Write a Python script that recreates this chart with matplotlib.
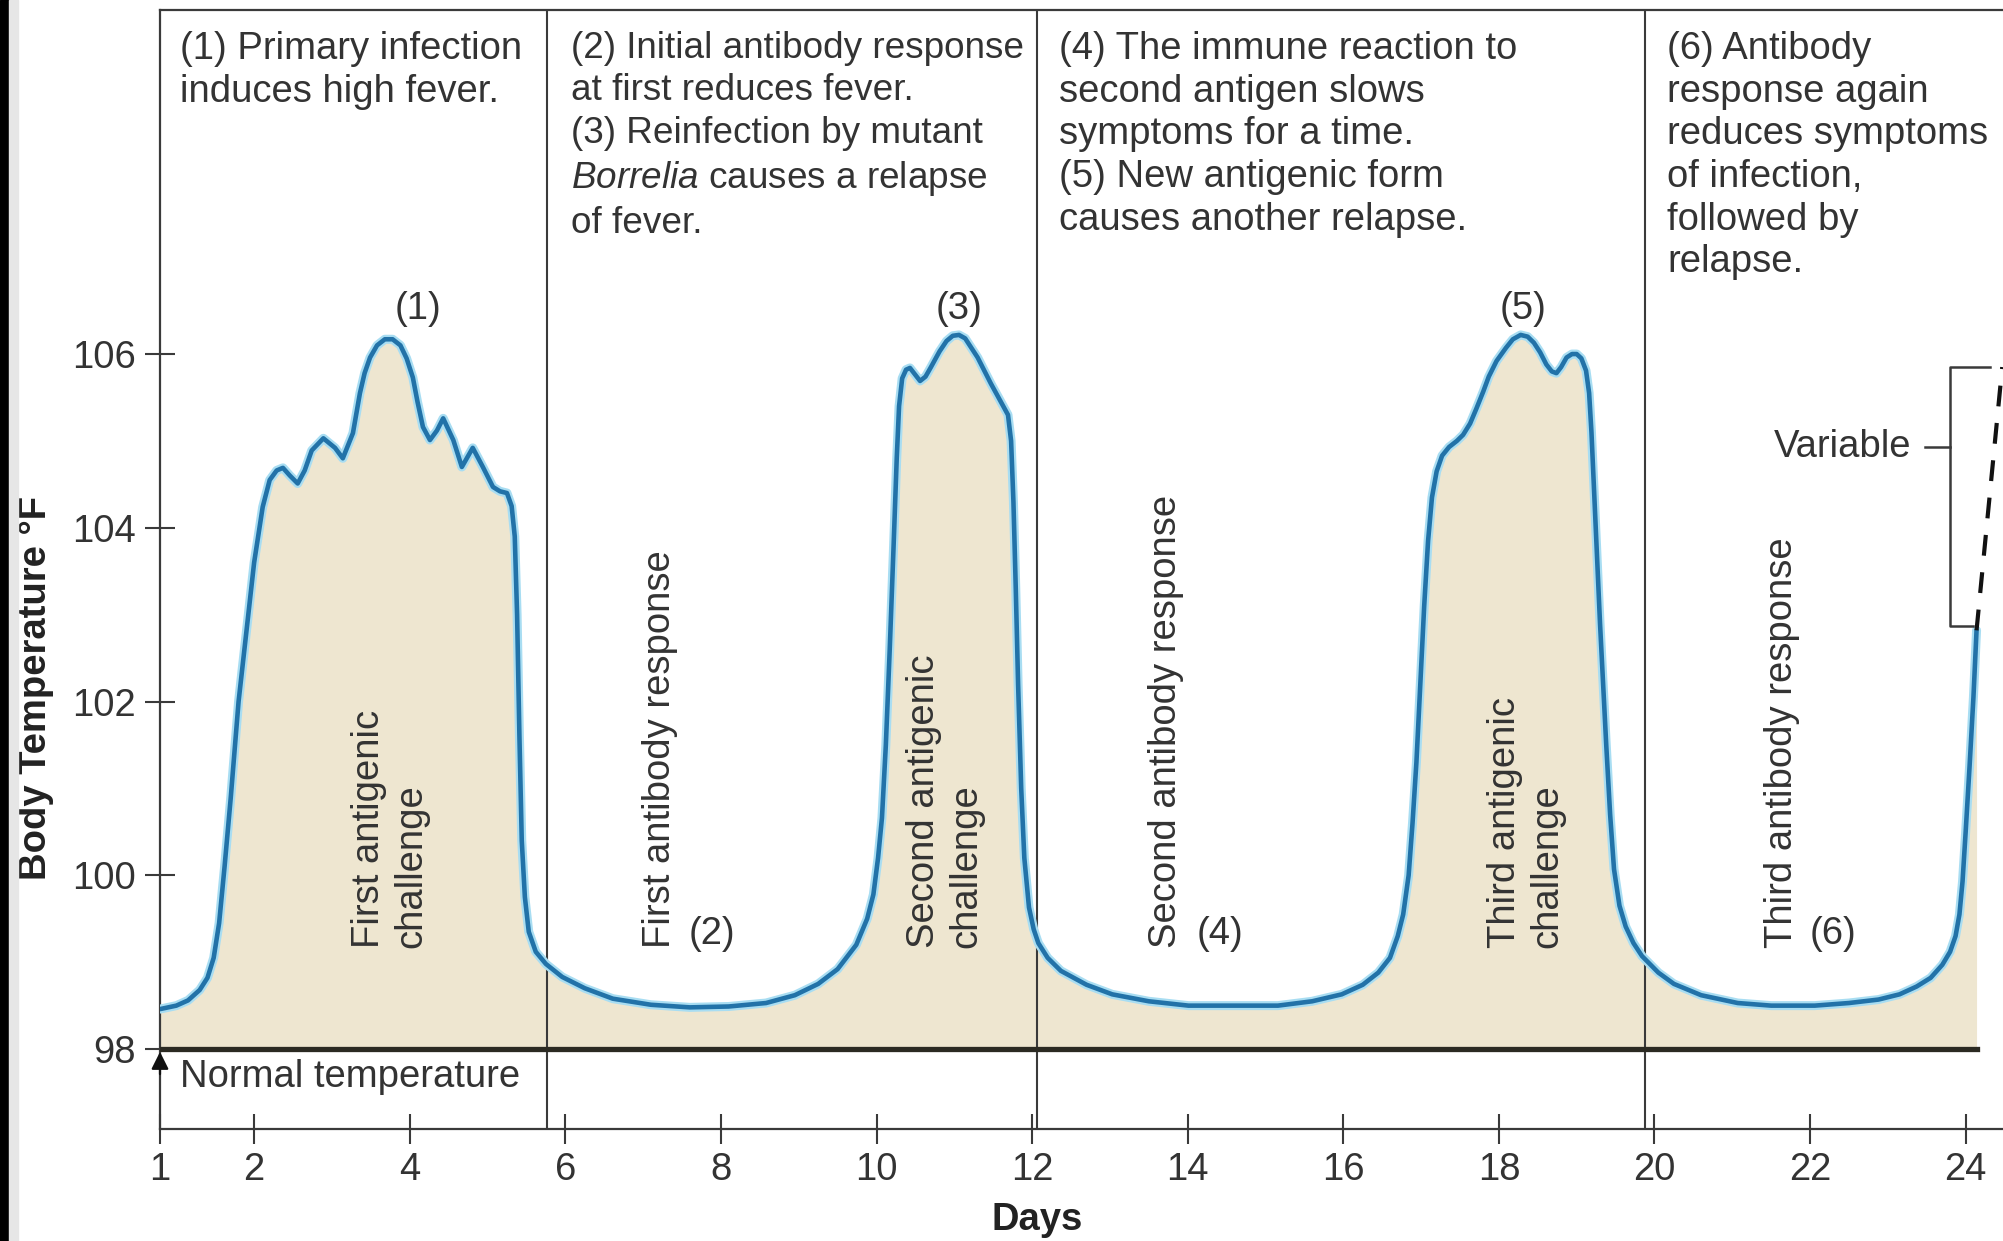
import matplotlib
matplotlib.use("Agg")
import matplotlib.pyplot as plt
from matplotlib.patches import Rectangle

plt.rcParams['font.family'] = ['Liberation Sans', 'DejaVu Sans']
plt.rcParams['mathtext.fontset'] = 'custom'
plt.rcParams['mathtext.rm'] = 'Liberation Sans'
plt.rcParams['mathtext.it'] = 'Liberation Sans:italic'

# fever curve, relapsing fever (Borrelia), read point by point
days = [0.79, 1.0, 1.15, 1.3, 1.4, 1.48, 1.55, 1.62, 1.7, 1.8, 1.9, 2.0, 2.11,
        2.2, 2.29, 2.37, 2.46, 2.56, 2.65, 2.74, 2.89, 3.04, 3.14, 3.27, 3.36,
        3.42, 3.49, 3.58, 3.68, 3.78, 3.88, 3.96, 4.04, 4.1, 4.17, 4.26, 4.35,
        4.43, 4.56, 4.67, 4.81, 4.94, 5.07, 5.16, 5.25, 5.31, 5.35, 5.38, 5.41,
        5.44, 5.48, 5.53, 5.62, 5.75, 5.96, 6.25, 6.61, 7.1, 7.6, 8.1, 8.58,
        8.95, 9.25, 9.5, 9.74, 9.88, 9.96, 10.02, 10.07, 10.12, 10.17, 10.22,
        10.26, 10.29, 10.33, 10.38, 10.43, 10.5, 10.56, 10.63, 10.7, 10.81,
        10.9, 10.98, 11.06, 11.14, 11.3, 11.47, 11.63, 11.69, 11.73, 11.76,
        11.79, 11.82, 11.86, 11.9, 11.96, 12.02, 12.08, 12.2, 12.37, 12.7,
        13.03, 13.5, 14.01, 15.16, 15.6, 15.98, 16.25, 16.45, 16.6, 16.7, 16.77,
        16.84, 16.89, 16.94, 16.99, 17.04, 17.09, 17.14, 17.2, 17.27, 17.36,
        17.46, 17.54, 17.63, 17.71, 17.8, 17.87, 17.97, 18.09, 18.18, 18.28,
        18.37, 18.45, 18.53, 18.61, 18.68, 18.74, 18.8, 18.87, 18.94, 19.0,
        19.06, 19.12, 19.16, 19.19, 19.22, 19.26, 19.3, 19.34, 19.38, 19.43,
        19.48, 19.55, 19.63, 19.73, 19.84, 20.05, 20.25, 20.6, 21.07, 21.5,
        22.06, 22.5, 22.88, 23.15, 23.37, 23.55, 23.7, 23.8, 23.87, 23.92, 23.96,
        24.0, 24.05, 24.1, 24.14]
temps = [98.46, 98.5, 98.56, 98.68, 98.82, 99.05, 99.45, 100.1, 100.9, 102.0,
         102.8, 103.6, 104.24, 104.55, 104.66, 104.69, 104.6, 104.51, 104.66,
         104.89, 105.03, 104.92, 104.8, 105.09, 105.55, 105.78, 105.96, 106.1,
         106.17, 106.17, 106.1, 105.95, 105.73, 105.45, 105.16, 105.01, 105.12,
         105.26, 105.01, 104.7, 104.92, 104.7, 104.47, 104.42, 104.4, 104.25,
         103.9, 103.0, 101.6, 100.4, 99.75, 99.35, 99.12, 98.98, 98.83, 98.7,
         98.58, 98.51, 98.48, 98.49, 98.53, 98.62, 98.75, 98.92, 99.2, 99.5,
         99.78, 100.2, 100.66, 101.5, 102.6, 103.8, 104.8, 105.4, 105.72,
         105.82, 105.84, 105.76, 105.69, 105.74, 105.85, 106.03, 106.15, 106.21,
         106.22, 106.18, 105.96, 105.66, 105.4, 105.3, 105.0, 104.3, 103.3,
         102.2, 101.0, 100.2, 99.63, 99.38, 99.22, 99.05, 98.9, 98.74, 98.63,
         98.55, 98.5, 98.5, 98.55, 98.63, 98.74, 98.88, 99.05, 99.3, 99.55,
         100.0, 100.6, 101.3, 102.2, 103.1, 103.85, 104.35, 104.65, 104.83,
         104.93, 105.0, 105.07, 105.2, 105.37, 105.57, 105.74, 105.92, 106.07,
         106.17, 106.22, 106.2, 106.13, 106.02, 105.88, 105.8, 105.78, 105.85,
         105.96, 106.0, 106.0, 105.95, 105.81, 105.55, 105.1, 104.5, 103.7,
         102.9, 102.2, 101.5, 100.7, 100.07, 99.65, 99.41, 99.22, 99.07, 98.88,
         98.75, 98.62, 98.53, 98.5, 98.5, 98.53, 98.57, 98.63, 98.72, 98.82,
         98.97, 99.12, 99.3, 99.55, 99.93, 100.5, 101.25, 102.05, 102.82]

# continuation of the last relapse (variable height)
var_days = [24.14, 24.47]
var_temps = [102.82, 105.85]

normal_temp = 98
phase_bounds = [5.76, 12.06, 19.88]
xtick_pos = [0.79, 2, 4, 6, 8, 10, 12, 14, 16, 18, 20, 22, 24]
xtick_labels = ['1', '2', '4', '6', '8', '10', '12', '14', '16', '18', '20', '22', '24']
yticks = [98, 100, 102, 104, 106]

panel_x = [1.05, 6.07, 12.34, 20.16]
panel_text = [
    "(1) Primary infection\ninduces high fever.",
    "(2) Initial antibody response\nat first reduces fever.\n(3) Reinfection by mutant\n"
    "$\\it{Borrelia}$ causes a relapse\nof fever.",
    "(4) The immune reaction to\nsecond antigen slows\nsymptoms for a time.\n"
    "(5) New antigenic form\ncauses another relapse.",
    "(6) Antibody\nresponse again\nreduces symptoms\nof infection,\nfollowed by\nrelapse.",
]
peak_x = [4.1, 11.06, 18.31]
peak_labels = ['(1)', '(3)', '(5)']
challenge_x = [3.75, 10.88, 18.35]
challenge_labels = ['First antigenic\nchallenge', 'Second antigenic\nchallenge',
                    'Third antigenic\nchallenge']
response_x = [7.22, 13.72, 21.64]
response_labels = ['First antibody response', 'Second antibody response',
                   'Third antibody response']
trough_x = [7.88, 14.41, 22.3]
trough_labels = ['(2)', '(4)', '(6)']

txt = '#333333'
line_col = '#3a3a3a'
fs = 27.5
lsp = 1.24
# the middle-left panel is set a touch tighter so it stays inside its column
panel_fs = [fs, 26.6, fs, fs]
panel_lsp = [lsp, lsp * fs / 26.6, lsp, lsp]

fig = plt.figure(figsize=(20.03, 12.41), dpi=100)
ax = fig.add_axes([160 / 2003, 1 - 1129 / 1241, 1843 / 2003, 1119 / 1241])
ax.set_xlim(0.79, 24.48)
ax.set_ylim(97.08, 109.96)

# fever area and curve
ax.fill_between(days, normal_temp, temps, color='#eee6d0', lw=0, zorder=1)
ax.plot(days, temps, color='#a8ddf2', lw=6.5, solid_joinstyle='round',
        solid_capstyle='round', zorder=3)
ax.plot(days, temps, color='#2272a8', lw=3.3, solid_joinstyle='round',
        solid_capstyle='round', zorder=4)
ax.plot(var_days, var_temps, color='#111111', lw=3, dashes=(5, 4), zorder=4)

# normal temperature baseline
ax.plot([0.79, 24.14], [normal_temp, normal_temp], color='#2b2a22', lw=3.8, zorder=5)
for xb in phase_bounds:
    ax.axvline(xb, color=line_col, lw=1.5, zorder=2)

# bracket for the variable height
ax.plot([24.31, 23.80, 23.80, 24.09], [105.85, 105.85, 102.87, 102.87],
        color=line_col, lw=1.8, zorder=4)
ax.plot([23.48, 23.80], [104.93, 104.93], color=line_col, lw=1.8, zorder=4)
ax.text(23.30, 104.93, 'Variable', ha='right', va='center', fontsize=fs, color=txt)

for xp, t, f, ls in zip(panel_x, panel_text, panel_fs, panel_lsp):
    ax.text(xp, 109.72, t, ha='left', va='top', fontsize=f, color=txt,
            linespacing=ls)
for xp, t in zip(peak_x, peak_labels):
    ax.text(xp, 106.52, t, ha='center', va='center', fontsize=fs, color=txt)
for xp, t in zip(challenge_x, challenge_labels):
    ax.text(xp, 99.16, t, ha='center', va='bottom', rotation=90, fontsize=fs,
            color=txt, multialignment='left', linespacing=lsp)
for xp, t in zip(response_x, response_labels):
    ax.text(xp, 99.16, t, ha='center', va='bottom', rotation=90, fontsize=fs,
            color=txt)
for xp, t in zip(trough_x, trough_labels):
    ax.text(xp, 99.32, t, ha='center', va='center', fontsize=fs, color=txt)

ax.text(1.05, 97.68, 'Normal temperature', ha='left', va='center', fontsize=fs,
        color=txt)
ax.annotate('', xy=(0.79, 98.0), xytext=(0.79, 97.68),
            arrowprops=dict(arrowstyle='-|>', color='#111111', lw=1.6,
                            mutation_scale=26), zorder=6)

for side in ['left', 'bottom', 'top']:
    ax.spines[side].set_color(line_col)
    ax.spines[side].set_linewidth(1.6)
ax.spines['right'].set_visible(False)

ax.set_xticks(xtick_pos)
ax.set_xticklabels(xtick_labels)
ax.set_yticks(yticks)
ax.tick_params(axis='both', direction='inout', length=21, width=1.5,
               color=line_col, labelsize=fs, labelcolor=txt)
ax.tick_params(axis='x', pad=6)
ax.tick_params(axis='y', pad=7)

fig.text(36 / 2003, 1 - 688 / 1241, 'Body Temperature °F', rotation=90,
         ha='center', va='center', fontsize=fs, fontweight='bold', color='#222222')
fig.text(1037 / 2003, 1 - 1220 / 1241, 'Days', ha='center', va='center',
         fontsize=fs, fontweight='bold', color='#222222')

# dark strip on the left edge
fig.add_artist(Rectangle((0, 0), 9 / 2003, 1, transform=fig.transFigure,
                         color='black', zorder=10))
fig.add_artist(Rectangle((9 / 2003, 0), 9 / 2003, 1, transform=fig.transFigure,
                         color='#e6e6e6', zorder=10))

fig.savefig('out.png', dpi=100)
